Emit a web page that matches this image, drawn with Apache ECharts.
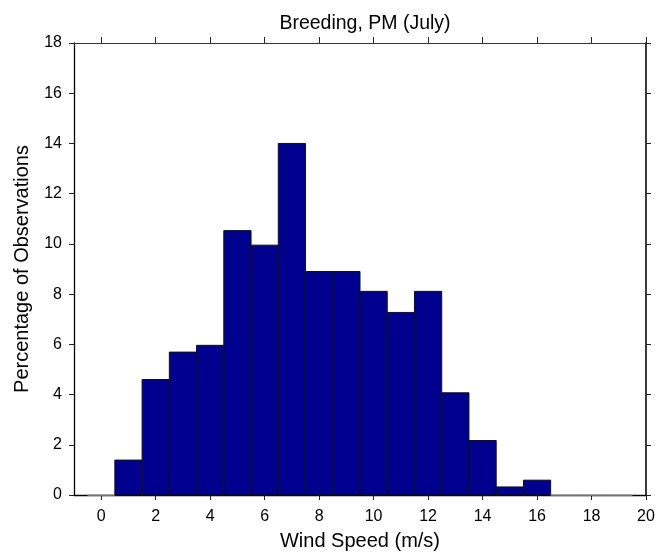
<!DOCTYPE html>
<html>
<head>
<meta charset="utf-8">
<script src="https://cdn.jsdelivr.net/npm/echarts@6/dist/echarts.min.js"></script>
<style>html,body{margin:0;padding:0;background:#fff;}#c{width:660px;height:556px;}</style>
</head>
<body>
<div id="c"></div>
<script>
const binCenters = [0,1,2,3,4,5,6,7,8,9,10,11,12,13,14,15,16,17,18,19];
const percentages = [0,1.39,4.6,5.69,5.96,10.53,9.95,14.0,8.9,8.9,8.11,7.27,8.11,4.07,2.17,0.32,0.59,0,0,0];
const xTicks = [0,2,4,6,8,10,12,14,16,18,20];
const titleText = 'Breeding, PM (July)';
const xName = 'Wind Speed (m/s)';
const yName = 'Percentage of Observations';

const font = 'Arial, "Liberation Sans", sans-serif';
const chart = echarts.init(document.getElementById('c'), null, {renderer:'canvas'});
function line(color, width){ return {show:true, onZero:false, lineStyle:{color:color, width:width}}; }
function tick(len){ return {show:true, inside:false, length:len, lineStyle:{color:'#222', width:1}}; }
chart.setOption({
  animation:false,
  backgroundColor:'#fff',
  title:{text:titleText, left:360, textAlign:'center', top:9, textStyle:{fontFamily:font, fontSize:19.5, fontWeight:'normal', color:'#000'}},
  grid:{left:74, right:14, top:43, bottom:59},
  xAxis:[
    {type:'value', min:-1, max:20, position:'bottom',
     name:xName, nameLocation:'middle', nameGap:36,
     nameTextStyle:{fontFamily:font, fontSize:20, color:'#000'},
     axisLine:line('#000',1.3), axisTick:Object.assign({customValues:xTicks}, tick(5)),
     axisLabel:{customValues:xTicks, margin:14, fontFamily:font, fontSize:16, color:'#000'},
     splitLine:{show:false}},
    {type:'value', min:-1, max:20, position:'top',
     axisLine:line('#333',1), axisTick:Object.assign({customValues:xTicks}, tick(6)),
     axisLabel:{show:false}, splitLine:{show:false}}
  ],
  yAxis:[
    {type:'value', min:0, max:18, interval:2, position:'left',
     name:yName, nameLocation:'middle', nameGap:42,
     nameTextStyle:{fontFamily:font, fontSize:20, color:'#000'},
     axisLine:line('#000',1.3), axisTick:tick(5),
     axisLabel:{margin:12, fontFamily:font, fontSize:16, color:'#000'},
     splitLine:{show:false}},
    {type:'value', min:0, max:18, interval:2, position:'right',
     axisLine:line('#3a3a3a',2), axisTick:tick(5), axisLabel:{show:false}, splitLine:{show:false}}
  ],
  series:[{
    type:'custom',
    xAxisIndex:0, yAxisIndex:0,
    data: binCenters.map((c,i)=>[c, percentages[i]]),
    renderItem:function(params, api){
      const c = api.value(0), v = api.value(1);
      const p0 = api.coord([c-0.5, 0]);
      const p1 = api.coord([c+0.5, v]);
      return {type:'rect',
        shape:{x:p0[0], y:p1[1], width:p1[0]-p0[0], height:p0[1]-p1[1]},
        style:{fill:'#00008f', stroke: v>0 ? '#111' : '#999', lineWidth:1}};
    }
  }]
});
</script>
</body>
</html>
